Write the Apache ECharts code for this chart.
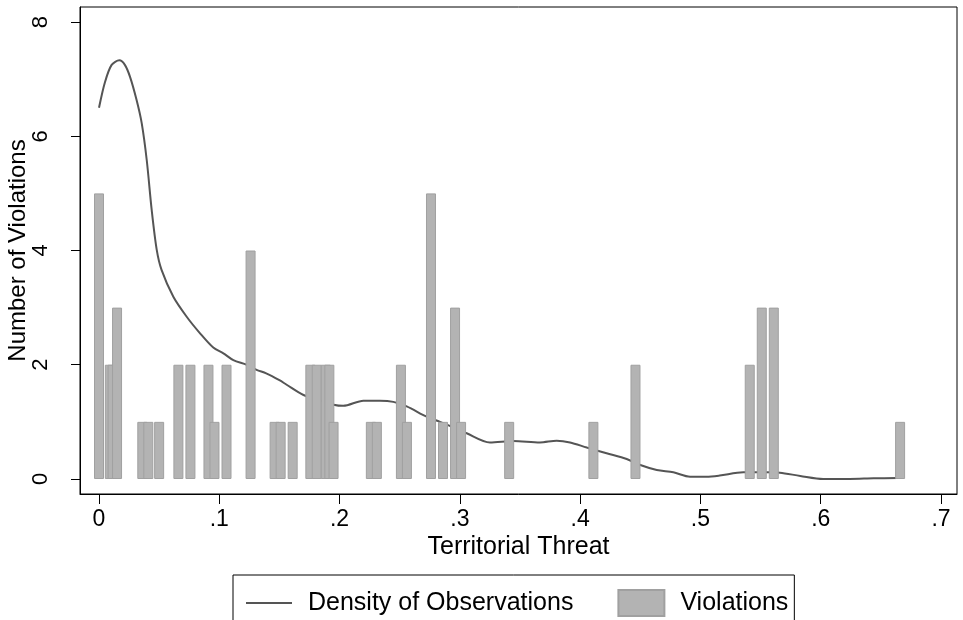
<!DOCTYPE html>
<html>
<head>
<meta charset="utf-8">
<script src="https://cdn.jsdelivr.net/npm/echarts@6/dist/echarts.min.js"></script>
<style>
html,body{margin:0;padding:0;background:#fff;}
#chart{width:963px;height:620px;}
</style>
</head>
<body>
<div id="chart"></div>
<script>
// Bars: Territorial Threat value and number of violations
const barX = [0.000, 0.009, 0.0113, 0.015, 0.036, 0.041, 0.050, 0.066, 0.076, 0.091, 0.096, 0.106, 0.126,
  0.146, 0.151, 0.161, 0.1757, 0.181, 0.1885, 0.1915, 0.195, 0.226, 0.231, 0.251, 0.256, 0.276, 0.286,
  0.296, 0.301, 0.341, 0.411, 0.446, 0.541, 0.551, 0.561, 0.666];
const barY = [5, 2, 2, 3, 1, 1, 1, 2, 2, 2, 1, 2, 4,
  1, 1, 1, 2, 2, 2, 2, 1, 1, 1, 2, 1, 5, 1,
  3, 1, 1, 1, 2, 2, 3, 3, 1];

// Density curve
const densX = [0, 0.005, 0.0105, 0.0169, 0.0215, 0.0258, 0.0313, 0.0355, 0.0397, 0.0438, 0.048, 0.052, 0.0618, 0.0729,
  0.084, 0.095, 0.1034, 0.1117, 0.1228, 0.131, 0.139, 0.150, 0.156, 0.170, 0.183, 0.195, 0.203, 0.2198, 0.2336,
  0.2447, 0.2558, 0.2724, 0.2835, 0.2950, 0.3057, 0.325, 0.3445, 0.3666, 0.3805, 0.3916, 0.4055, 0.422, 0.4387,
  0.450, 0.4637, 0.4775, 0.4914, 0.505, 0.516, 0.5357, 0.555, 0.566, 0.583, 0.602, 0.624, 0.644, 0.664];
const densY = [6.50, 6.95, 7.25, 7.33, 7.25, 7.04, 6.63, 6.23, 5.58, 4.71, 4.01, 3.66, 3.19, 2.84,
  2.55, 2.30, 2.20, 2.08, 2.00, 1.91, 1.85, 1.73, 1.65, 1.47, 1.38, 1.30, 1.28, 1.37, 1.37,
  1.35, 1.27, 1.09, 1.00, 0.90, 0.80, 0.64, 0.665, 0.64, 0.67, 0.64, 0.55, 0.45, 0.35,
  0.245, 0.158, 0.117, 0.04, 0.04, 0.06, 0.117, 0.117, 0.11, 0.053, 0.0, 0.0, 0.012, 0.017];

const xTickValues = [0, 0.1, 0.2, 0.3, 0.4, 0.5, 0.6, 0.7];
const xTickLabels = ['0', '.1', '.2', '.3', '.4', '.5', '.6', '.7'];
const yTickValues = [0, 2, 4, 6, 8];
const yTickLabels = ['0', '2', '4', '6', '8'];

const xTitle = 'Territorial Threat';
const yTitle = 'Number of Violations';
const lineName = 'Density of Observations';
const barName = 'Violations';

const FONT = '"Liberation Sans", Arial, Helvetica, sans-serif';

function labelFor(values, labels, v) {
  let best = 0;
  for (let i = 0; i < values.length; i++) {
    if (Math.abs(values[i] - v) < Math.abs(values[best] - v)) best = i;
  }
  return labels[best];
}

const chart = echarts.init(document.getElementById('chart'), null, {renderer: 'canvas'});
chart.setOption({
  animation: false,
  backgroundColor: '#fff',
  textStyle: {fontFamily: FONT, color: '#000'},
  grid: {
    left: 80, top: 7, right: 6, bottom: 126,
    containLabel: false,
    outerBoundsMode: 'none',
    show: true, borderColor: '#000', borderWidth: 1, backgroundColor: '#fff'
  },
  legend: {
    left: 233, top: 575,
    orient: 'horizontal',
    data: [
      {name: lineName, itemStyle: {opacity: 0}},
      {name: barName, icon: 'rect'}
    ],
    itemWidth: 46, itemHeight: 26,
    itemGap: 44,
    padding: [14, 6, 40, 12],
    borderColor: '#000', borderWidth: 1,
    textStyle: {fontFamily: FONT, fontSize: 25, color: '#000', padding: [0, 0, 0, 11]}
  },
  xAxis: {
    type: 'value',
    min: -0.0158, max: 0.7133,
    splitLine: {show: false},
    axisLine: {show: true, onZero: false, lineStyle: {color: '#000', width: 1}},
    axisTick: {show: true, length: 10, customValues: xTickValues, lineStyle: {color: '#000'}},
    axisLabel: {
      customValues: xTickValues,
      margin: 14,
      fontSize: 23, fontFamily: FONT, color: '#000', lineHeight: 23,
      formatter: v => labelFor(xTickValues, xTickLabels, v)
    },
    name: xTitle,
    nameLocation: 'middle',
    nameGap: 41,
    nameMoveOverlap: false,
    nameTextStyle: {fontSize: 25, fontFamily: FONT, color: '#000', lineHeight: 25}
  },
  yAxis: {
    type: 'value',
    min: -0.263, max: 8.263,
    splitLine: {show: false},
    axisLine: {show: true, onZero: false, lineStyle: {color: '#000', width: 1}},
    axisTick: {show: true, length: 9, customValues: yTickValues, lineStyle: {color: '#000'}},
    axisLabel: {
      customValues: yTickValues,
      rotate: 90,
      margin: 28,
      fontSize: 22, fontFamily: FONT, color: '#000', lineHeight: 22,
      formatter: v => labelFor(yTickValues, yTickLabels, v)
    },
    name: yTitle,
    nameLocation: 'middle',
    nameRotate: 90,
    nameGap: 50,
    nameMoveOverlap: false,
    nameTextStyle: {fontSize: 24, fontFamily: FONT, color: '#000', lineHeight: 24}
  },
  series: [
    {
      name: lineName,
      type: 'line',
      data: densX.map((x, i) => [x, densY[i]]),
      smooth: 0.3,
      symbol: 'none',
      lineStyle: {color: '#555555', width: 2},
      itemStyle: {color: '#555555'},
      z: 2
    },
    {
      name: barName,
      type: 'bar',
      data: barX.map((x, i) => [x, barY[i]]),
      barWidth: 10,
      itemStyle: {color: '#b3b3b3', borderColor: '#a0a0a0', borderWidth: 1},
      z: 3
    }
  ]
});
</script>
</body>
</html>
